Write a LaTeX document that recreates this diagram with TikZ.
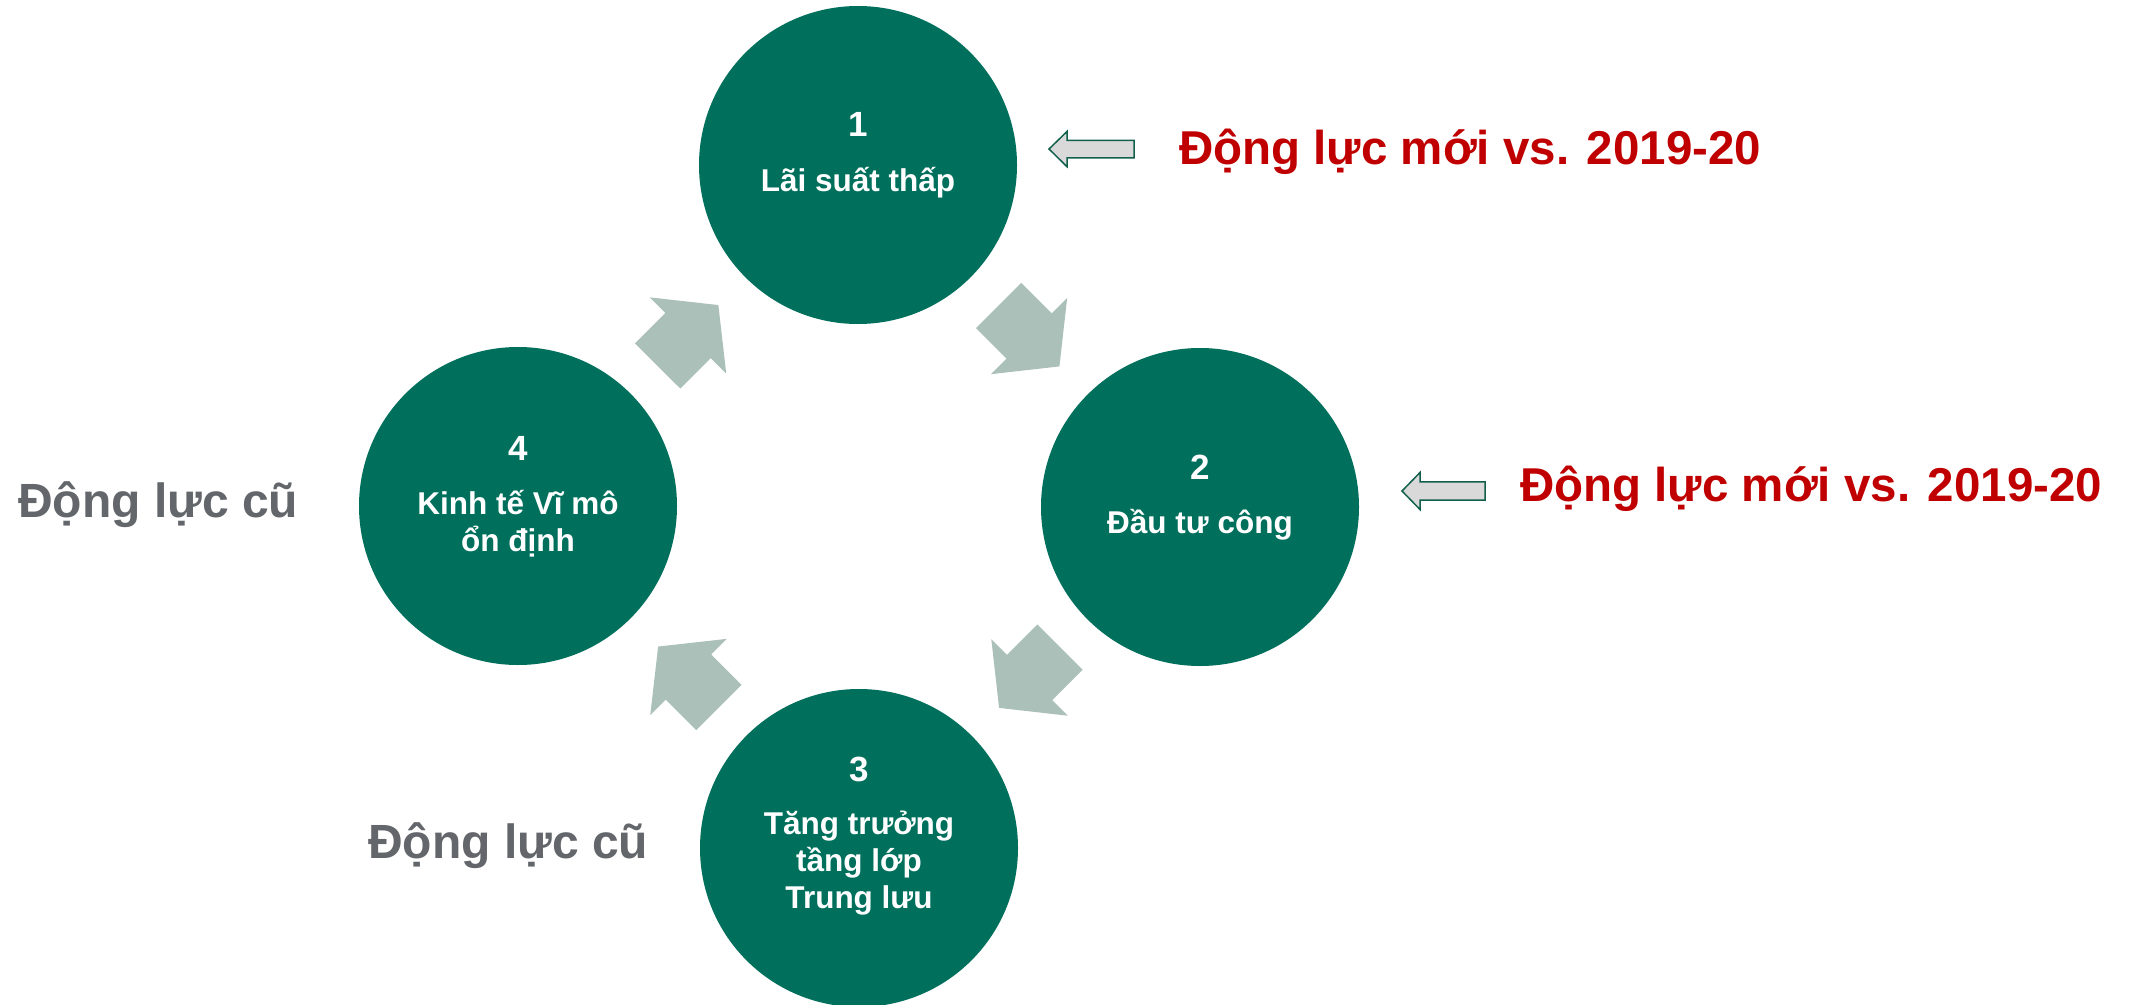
\documentclass[tikz,border=0pt]{standalone}
\usepackage{fontspec}
\setmainfont{Liberation Sans}
\usetikzlibrary{calc}
\definecolor{circgreen}{RGB}{0,112,93}
\definecolor{arrowgray}{RGB}{170,192,185}
\definecolor{newred}{RGB}{192,0,0}
\definecolor{oldgray}{RGB}{99,102,106}
\definecolor{outlinegreen}{RGB}{18,96,76}
\definecolor{outlinefill}{RGB}{217,217,217}
\newcommand\cyclearrowfromto[2]{%
  \coordinate (m#1#2) at ($(#1)!0.5!(#2)$);
  \coordinate (t#1#2) at ($(m#1#2)!-43pt!(#2)$);
  \fill[cyclearrow] ($(t#1#2)!32pt!90:(#2)$) -- ($(m#1#2)!32pt!90:(#2)$)
    -- ($(m#1#2)!54pt!90:(#2)$) -- ($(m#1#2)!43pt!(#2)$)
    -- ($(m#1#2)!54pt!-90:(#2)$) -- ($(m#1#2)!32pt!-90:(#2)$)
    -- ($(t#1#2)!32pt!-90:(#2)$) -- cycle;}
\begin{document}
\begin{tikzpicture}[x=1pt,y=-1pt,
  circ/.style={circle, fill=circgreen, minimum size=318pt, inner sep=0pt},
  numtxt/.style={anchor=base, inner sep=0pt, text=white, font=\fontsize{35}{40}\selectfont\bfseries},
  bodytxt/.style={anchor=base, inner sep=0pt, text=white, font=\fontsize{31.5}{37}\selectfont\bfseries},
  newtxt/.style={anchor=base west, inner sep=0pt, text=newred, font=\fontsize{47.5}{56}\selectfont\bfseries},
  oldtxt/.style={anchor=base west, inner sep=0pt, text=oldgray, font=\fontsize{48}{56}\selectfont\bfseries},
  cyclearrow/.style={fill=arrowgray},
  pointer/.style={draw=outlinegreen, fill=outlinefill, line width=1.5pt, line join=miter}]
\useasboundingbox (0,0) rectangle (2131,1004);
\fill[white] (0,0) rectangle (2131,1004);

% circles
\node[circ] (c1) at (858,165) {};
\node[circ] (c2) at (1200,507) {};
\node[circ] (c3) at (859,848) {};
\node[circ] (c4) at (518,506) {};

% circle texts
\node[numtxt] (n1) at ($(c1)+(0,-29)$) {1};
\node[bodytxt] (l1a) at ($(c1)+(0,26)$) {Lãi suất thấp};

\node[numtxt] (n2) at ($(c2)+(0,-28)$) {2};
\node[bodytxt] (l2a) at ($(c2)+(0,26)$) {Đầu tư công};

\node[numtxt] (n3) at ($(c3)+(0,-67)$) {3};
\node[bodytxt] (l3a) at ($(c3)+(0,-14)$) {Tăng trưởng};
\node[bodytxt] (l3b) at ($(c3)+(0,23)$) {tầng lớp};
\node[bodytxt] (l3c) at ($(c3)+(0,60)$) {Trung lưu};

\node[numtxt] (n4) at ($(c4)+(0,-46)$) {4};
\node[bodytxt] (l4a) at ($(c4)+(0,8)$) {Kinh tế Vĩ mô};
\node[bodytxt] (l4b) at ($(c4)+(0,45)$) {ổn định};

% cycle arrows
\cyclearrowfromto{c1}{c2}
\cyclearrowfromto{c2}{c3}
\cyclearrowfromto{c3}{c4}
\cyclearrowfromto{c4}{c1}

% labels
\node[newtxt] (new1) at (1179,164) {Động lực mới vs. 2019-20};
\node[newtxt] (new2) at (1520,501) {Động lực mới vs. 2019-20};
\node[oldtxt] (old1) at (18,517) {Động lực cũ};
\node[oldtxt] (old2) at (368,858) {Động lực cũ};

% outline pointer arrows
\coordinate (p1tip) at (1049,149);
\draw[pointer] (p1tip) -- ++(18,-17.5) -- ++(0,8.8) -- ++(67,0) -- ++(0,17.6)
  -- ++(-67,0) -- ++(0,8.8) -- cycle;
\coordinate (p2tip) at (1402,491);
\draw[pointer] (p2tip) -- ++(18,-18.5) -- ++(0,9.3) -- ++(65,0) -- ++(0,18.4)
  -- ++(-65,0) -- ++(0,9.3) -- cycle;
\end{tikzpicture}
\end{document}
